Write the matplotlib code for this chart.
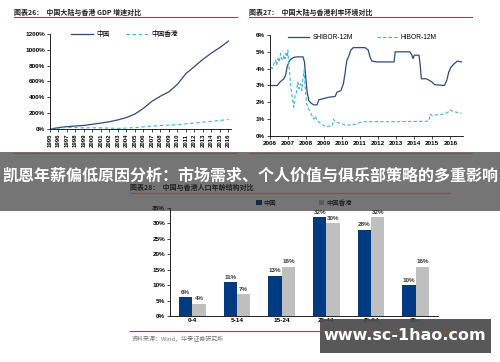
import matplotlib
matplotlib.use("Agg")
import matplotlib.pyplot as plt
from matplotlib.patches import Rectangle
import numpy as np

plt.rcParams['font.family'] = ['Liberation Sans', 'Noto Sans CJK SC', 'DejaVu Sans']

# ---------------- data ----------------
gdp_years = list(range(1995, 2017))
gdp_china = [0, 17, 30, 38, 45, 60, 75, 92, 115, 145, 190, 262, 350, 415, 470, 565, 700, 790, 880, 960, 1030, 1110]
gdp_hk = [0, 10, 20, 18, 14, 16, 14, 11, 8, 12, 18, 27, 36, 44, 48, 55, 66, 76, 86, 97, 108, 120]

shibor_t = [2006.04, 2006.40, 2006.55, 2006.77, 2006.86, 2006.95, 2007.05, 2007.14, 2007.32, 2007.50,
            2007.83, 2007.91, 2007.98, 2008.06, 2008.15, 2008.28, 2008.42, 2008.61, 2008.70, 2008.88,
            2009.25, 2009.61, 2009.71, 2009.93, 2010.07, 2010.17, 2010.26, 2010.37, 2010.48, 2010.62,
            2011.27, 2011.45, 2011.54, 2011.65, 2011.91, 2012.88, 2012.94, 2013.74, 2013.85, 2013.93,
            2014.00, 2014.26, 2014.33, 2014.39, 2014.66, 2014.84, 2014.99, 2015.12, 2015.67, 2015.80,
            2015.91, 2016.04, 2016.22, 2016.39, 2016.62]
shibor_v = [3.0, 3.0, 3.2, 3.4, 3.6, 4.1, 4.4, 4.55, 4.67, 4.7,
            4.7, 4.4, 3.5, 2.6, 2.1, 1.95, 1.85, 1.85, 2.15, 2.2,
            2.3, 2.35, 2.6, 2.7, 3.1, 3.8, 4.5, 4.75, 5.1, 5.25,
            5.25, 5.1, 4.7, 4.45, 4.4, 4.4, 5.0, 5.0, 4.85, 4.6,
            4.8, 4.8, 4.2, 3.4, 3.4, 3.3, 3.2, 3.05, 3.0, 3.3,
            3.8, 4.1, 4.3, 4.45, 4.4]

hibor_t = [2006.04, 2006.13, 2006.22, 2006.31, 2006.37, 2006.44, 2006.51, 2006.59, 2006.64, 2006.72,
           2006.77, 2006.83, 2006.88, 2006.94, 2006.99, 2007.03, 2007.10, 2007.17, 2007.25, 2007.32,
           2007.39, 2007.47, 2007.54, 2007.61, 2007.69, 2007.76, 2007.83, 2007.89, 2007.94, 2008.02,
           2008.09, 2008.20, 2008.33, 2008.42, 2008.51, 2008.61, 2008.75, 2008.88, 2009.01, 2009.16,
           2009.34, 2009.45, 2009.52, 2009.60, 2009.74, 2009.93, 2010.17, 2010.44, 2010.77, 2010.99,
           2011.27, 2012.28, 2013.19, 2014.81, 2014.88, 2014.99, 2015.21, 2015.67, 2015.85, 2015.98,
           2016.17, 2016.40, 2016.62]
hibor_v = [4.1, 4.0, 4.3, 4.5, 4.2, 4.6, 4.4, 4.9, 4.6, 4.5,
           4.8, 4.6, 4.9, 4.7, 5.1, 4.4, 3.6, 2.8, 2.2, 1.7,
           2.4, 2.6, 3.2, 2.8, 3.1, 2.7, 3.5, 3.9, 3.0, 2.0,
           1.7, 1.5, 1.2, 1.0, 1.2, 0.9, 0.8, 0.7, 0.6, 0.55,
           0.6, 0.6, 1.0, 0.85, 0.8, 0.75, 0.65, 0.65, 0.7, 0.8,
           0.85, 0.85, 0.85, 0.88, 1.3, 1.2, 1.25, 1.3, 1.4, 1.55,
           1.45, 1.4, 1.35]

age_groups = ['0-4', '5-14', '15-24', '25-44', '45-64', '65+']
age_china = [6, 11, 13, 32, 28, 10]
age_hk = [4, 7, 16, 30, 32, 16]

# ---------------- figure ----------------
W, H = 500, 362
fig = plt.figure(figsize=(5, 3.62), dpi=100)
fig.patch.set_facecolor('white')

def fa(x0, y_top, x1, y_bot):
    return [x0 / W, 1 - y_bot / H, (x1 - x0) / W, (y_bot - y_top) / H]

navy = '#2E4A7D'
light = '#3BB3DC'
tick_kw = dict(labelsize=4.6, length=2, width=0.5, pad=1.5)

# chart 1: GDP
ax1 = fig.add_axes(fa(50, 34, 231, 129))
ax1.plot(gdp_years, gdp_china, color=navy, lw=0.9, label='中国')
ax1.plot(gdp_years, gdp_hk, color=light, lw=0.8, ls=(0, (3, 2.5)), label='中国香港')
ax1.set_xlim(1995, 2016.3)
ax1.set_ylim(0, 1200)
ax1.set_yticks(range(0, 1201, 200))
ax1.set_yticklabels([f'{v}%' for v in range(0, 1201, 200)], fontweight='bold')
ax1.set_xticks(gdp_years)
ax1.set_xticklabels([str(y) for y in gdp_years], rotation=90, fontweight='bold')
ax1.tick_params(axis='both', **tick_kw)
ax1.tick_params(axis='x', labelsize=4.3)
for s in ['top', 'right']:
    ax1.spines[s].set_visible(False)
for s in ['left', 'bottom']:
    ax1.spines[s].set_linewidth(0.6)
ax1.legend(loc='upper center', bbox_to_anchor=(0.41, 1.09), ncol=2, frameon=False,
           fontsize=4.8, handlelength=3.3, columnspacing=2.4, handletextpad=0.5)

# chart 2: rates
ax2 = fig.add_axes(fa(270, 35, 463, 136))
ax2.plot(shibor_t, shibor_v, color=navy, lw=0.9, label='SHIBOR-12M')
ax2.plot(hibor_t, hibor_v, color=light, lw=0.8, ls=(0, (3, 2)), label='HIBOR-12M')
ax2.set_xlim(2006.0, 2016.7)
ax2.set_ylim(0, 6)
ax2.set_yticks(range(0, 7))
ax2.set_yticklabels([f'{v}%' for v in range(0, 7)], fontweight='bold')
ax2.set_xticks(range(2006, 2017))
ax2.set_xticklabels([str(y) for y in range(2006, 2017)], fontweight='bold')
ax2.tick_params(axis='both', **tick_kw)
for s in ['top', 'right']:
    ax2.spines[s].set_visible(False)
for s in ['left', 'bottom']:
    ax2.spines[s].set_linewidth(0.6)
ax2.legend(loc='upper center', bbox_to_anchor=(0.48, 1.07), ncol=2, frameon=False,
           fontsize=4.8, handlelength=3.1, columnspacing=3.6, handletextpad=0.5)

# chart 3: age structure
ax3 = fig.add_axes(fa(170, 208, 438, 316))
x = np.arange(len(age_groups))
bw = 0.3
b1 = ax3.bar(x - bw / 2, age_china, bw, color='#003A80', label='中国')
b2 = ax3.bar(x + bw / 2, age_hk, bw, color='#BFBFBF', label='中国香港')
for bars in (b1, b2):
    for r in bars:
        ax3.text(r.get_x() + r.get_width() / 2, r.get_height() + 0.8, f'{int(r.get_height())}%',
                 ha='center', va='bottom', fontsize=4.5, fontweight='bold', color='#333333')
ax3.set_xlim(-0.5, 5.5)
ax3.set_ylim(0, 35)
ax3.set_yticks(range(0, 36, 5))
ax3.set_yticklabels([f'{v}%' for v in range(0, 36, 5)], fontweight='bold')
ax3.set_xticks(x)
ax3.set_xticklabels(age_groups, fontweight='bold')
ax3.tick_params(axis='both', **tick_kw)
ax3.tick_params(axis='x', length=0)
for s in ['top', 'right']:
    ax3.spines[s].set_visible(False)
for s in ['left', 'bottom']:
    ax3.spines[s].set_linewidth(0.6)
ax3.legend(loc='upper center', bbox_to_anchor=(0.50, 1.13), ncol=2, frameon=False,
           fontsize=4.6, handlelength=0.8, handleheight=0.8, columnspacing=6.7, handletextpad=0.3)

# ---------------- overlay decorations ----------------
ov = fig.add_axes([0, 0, 1, 1], zorder=10)
ov.set_xlim(0, W)
ov.set_ylim(H, 0)
ov.axis('off')
ov.patch.set_alpha(0)

red = '#A8403A'
cjk = ['Noto Sans CJK SC', 'DejaVu Sans']
ov.text(14, 12, '图表26：  中国大陆与香港 GDP 增速对比', fontsize=5, fontweight='bold',
        family=cjk, va='center', color='#222222')
ov.text(249, 12, '图表27：  中国大陆与香港利率环境对比', fontsize=5, fontweight='bold',
        family=cjk, va='center', color='#222222')
ov.plot([14, 237], [17, 17], color=red, lw=0.8)
ov.plot([249, 472], [17, 17], color=red, lw=0.8)
ov.plot([14, 237], [153, 153], color=red, lw=0.8)
ov.plot([249, 472], [153, 153], color=red, lw=0.8)
ov.text(15, 161, '资料来源：Wind，华泰证券研究所', fontsize=4.3, family=cjk, va='center', color='#777777')
ov.text(250, 161, '资料来源：Wind，华泰证券研究所', fontsize=4.3, family=cjk, va='center', color='#777777')
ov.text(130, 191, '图表28：  中国与香港人口年龄结构对比', fontsize=5, fontweight='bold',
        family=cjk, va='bottom', color='#222222')
ov.plot([130, 450], [193, 193], color=red, lw=0.8)
ov.plot([130, 450], [331, 331], color=red, lw=0.8)
ov.text(132, 339, '资料来源：Wind，华泰证券研究所', fontsize=4.3, family=cjk, va='center', color='#777777')

# dark banner with headline
ov.add_patch(Rectangle((0, 152), W, 59, facecolor='#202020', alpha=0.62, lw=0))
ov.text(W / 2, 176, '凯恩年薪偏低原因分析：市场需求、个人价值与俱乐部策略的多重影响',
        fontsize=11.55, fontweight='bold', family=cjk, color='white', ha='center', va='center')

# watermark
ov.add_patch(Rectangle((320, 319), 171, 34, facecolor='#4a4a4a', alpha=0.92, lw=0))
ov.text(405, 336, 'www.sc-1hao.com', fontsize=11.5, fontweight='bold', family=['DejaVu Sans'],
        color='white', ha='center', va='center')

fig.savefig('out.png', dpi=100)
